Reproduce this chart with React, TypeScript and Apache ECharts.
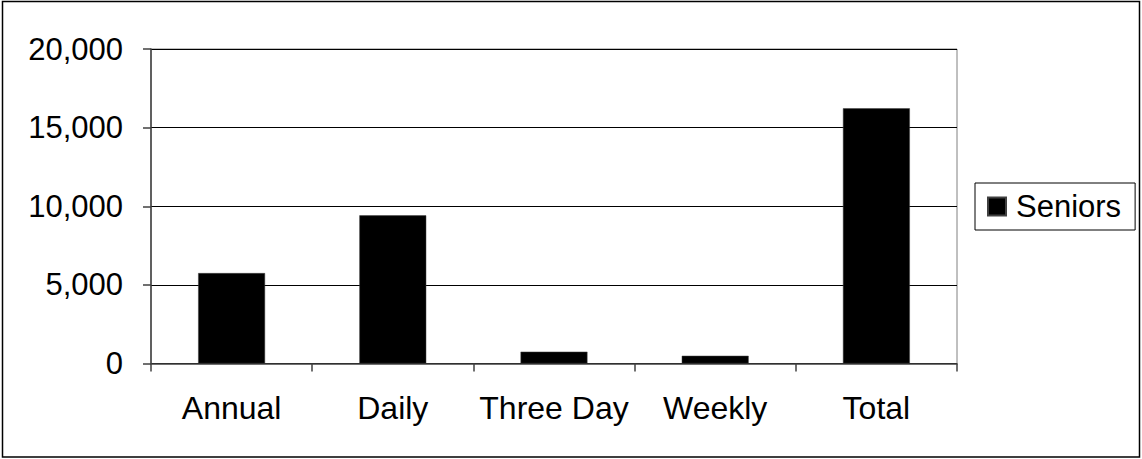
import React, { useEffect, useRef } from "react";
import * as echarts from "echarts";

const categories = ["Annual", "Daily", "Three Day", "Weekly", "Total"];
const seniors = [5750, 9420, 750, 490, 16230];
const yTicks = { min: 0, max: 20000, interval: 5000 };
const seriesName = "Seniors";

const FONT = "Liberation Sans, Arial, sans-serif";

export default function App() {
  const ref = useRef<HTMLDivElement>(null);
  useEffect(() => {
    if (!ref.current) return;
    const chart = echarts.init(ref.current, null, { renderer: "svg" });
    chart.setOption({
      animation: false,
      backgroundColor: "#fff",
      textStyle: { fontFamily: FONT },
      grid: {
        left: 151,
        right: 185,
        top: 49,
        bottom: 95.5,
        show: true,
        borderColor: "#808080",
        borderWidth: 1,
        backgroundColor: "#fff",
      },
      legend: {
        show: true,
        left: 975,
        top: 183,
        orient: "vertical",
        data: [seriesName],
        icon: "rect",
        itemWidth: 18,
        itemHeight: 18,
        itemGap: 0,
        borderColor: "#000",
        borderWidth: 1,
        padding: [8, 14, 8, 12],
        textStyle: { fontFamily: FONT, fontSize: 31, color: "#000", padding: [0, 0, 0, 5] },
      },
      xAxis: {
        type: "category",
        data: categories,
        axisLine: { show: true, lineStyle: { color: "#404040", width: 1.5 } },
        axisTick: { show: true, inside: false, length: 8, alignWithLabel: false, lineStyle: { color: "#404040", width: 1.5 } },
        axisLabel: { fontFamily: FONT, fontSize: 32, color: "#000", margin: 28, interval: 0 },
        splitLine: { show: false },
      },
      yAxis: {
        type: "value",
        min: yTicks.min,
        max: yTicks.max,
        interval: yTicks.interval,
        axisLine: { show: true, lineStyle: { color: "#404040", width: 1.5 } },
        axisTick: { show: true, inside: false, length: 8, lineStyle: { color: "#404040", width: 1.5 } },
        axisLabel: {
          fontFamily: FONT,
          fontSize: 31,
          color: "#000",
          margin: 28,
          formatter: (v: number) => v.toLocaleString("en-US"),
        },
        splitLine: { show: true, lineStyle: { color: "#000", width: 1 } },
      },
      graphic: [
        {
          type: "rect",
          shape: { x: 2.5, y: 1.5, width: 1137, height: 455.5 },
          style: { fill: "none", stroke: "#000", lineWidth: 1.5 },
          silent: true,
          z: 100,
        },
      ],
      series: [
        {
          name: seriesName,
          type: "bar",
          data: seniors,
          barWidth: "41.5%",
          itemStyle: { color: "#000", borderColor: "#404040", borderWidth: 0.5 },
        },
      ],
    });
    return () => chart.dispose();
  }, []);
  return (
    <div
      ref={ref}
      style={{ position: "absolute", left: 0, top: 0, width: 1142, height: 459 }}
    />
  );
}
